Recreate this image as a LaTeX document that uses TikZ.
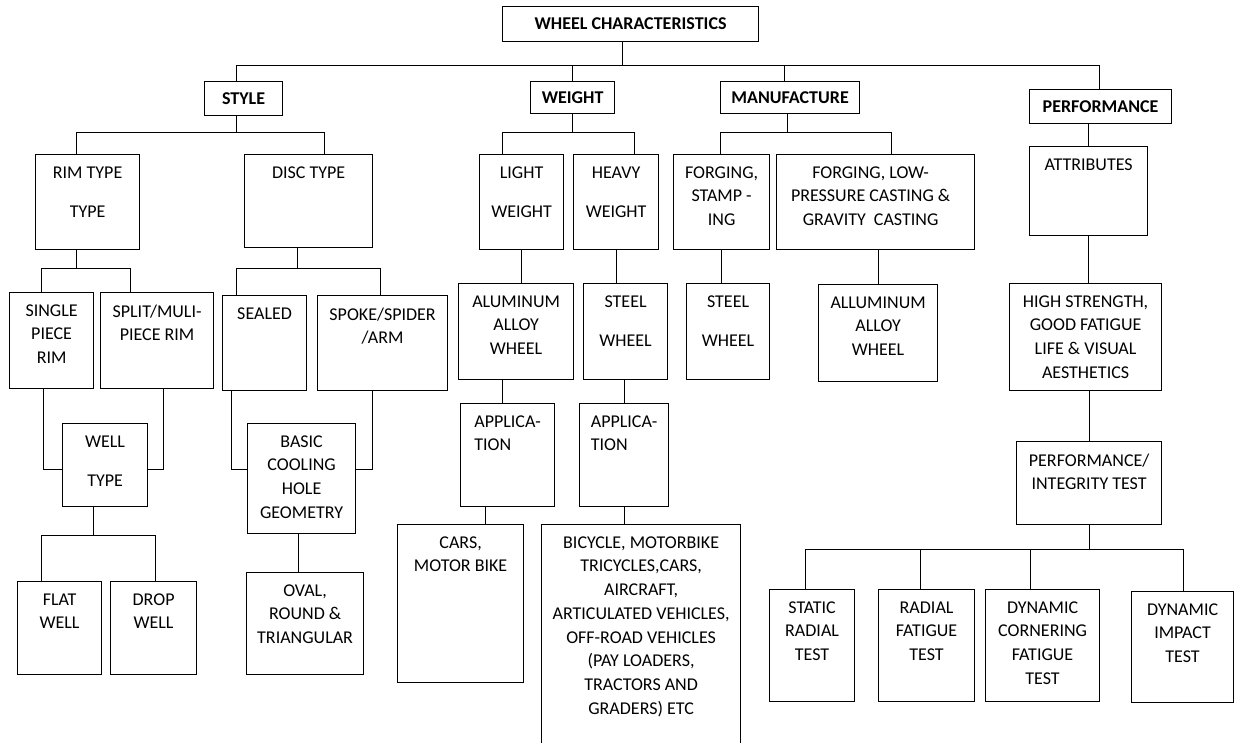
\documentclass[tikz,border=0pt]{standalone}
\usepackage{fontspec}
\setmainfont{Carlito}
\usepackage{tikz}
\newcommand\chartsize{\fontsize{18}{23.7}\selectfont}

\begin{document}
\begin{tikzpicture}[x=1pt,y=-1pt,line width=1.2pt,font=\chartsize,
		head/.style={draw,font=\chartsize\bfseries,inner sep=0pt,anchor=north west},
		box/.style={draw,inner sep=0pt,anchor=north west},
		txt/.style={align=center,inner sep=0pt,anchor=north,yshift=-12pt}]
	\useasboundingbox (0,0) rectangle (1242,742);
	
	% headings
	\node[head,minimum width=256,minimum height=35] (wheel) at (502,6) {WHEEL CHARACTERISTICS};
	\node[head,minimum width=78,minimum height=34] (style) at (204,81) {STYLE};
	\node[head,minimum width=84,minimum height=32] (weight) at (530,81) {WEIGHT};
	\node[head,minimum width=139,minimum height=32] (manuf) at (720,81) {MANUFACTURE};
	\node[head,minimum width=142,minimum height=34] (perf) at (1029,89) {PERFORMANCE};
	
	% style branch
	\node[box,minimum width=104,minimum height=95,label={[txt]north:RIM TYPE\\[16pt]TYPE}] (rim) at (35,154) {};
	\node[box,minimum width=128,minimum height=93,label={[txt]north:DISC TYPE}] (disc) at (244,154) {};
	\node[box,minimum width=84,minimum height=96,label={[txt]north:SINGLE\\PIECE\\RIM}] (single) at (9,292) {};
	\node[box,minimum width=113,minimum height=96,label={[txt]north:SPLIT/MULI-\\PIECE RIM}] (split) at (100,292) {};
	\node[box,minimum width=84,minimum height=95,label={[txt]north:SEALED}] (sealed) at (222,295) {};
	\node[box,minimum width=130,minimum height=95,label={[txt]north:SPOKE/SPIDER\\/ARM}] (spoke) at (317,295) {};
	\node[box,minimum width=85,minimum height=83,label={[txt]north:WELL\\[16pt]TYPE}] (well) at (62,423) {};
	\node[box,minimum width=108,minimum height=110,label={[txt]north:BASIC\\COOLING\\HOLE\\GEOMETRY}] (cool) at (247,423) {};
	\node[box,minimum width=84,minimum height=93,label={[txt]north:FLAT\\WELL}] (flat) at (17,581) {};
	\node[box,minimum width=86,minimum height=93,label={[txt]north:DROP\\WELL}] (drop) at (110,581) {};
	\node[box,minimum width=117,minimum height=102,label={[txt]north:OVAL,\\ROUND \&\\TRIANGULAR}] (oval) at (246,572) {};
	
	% weight branch
	\node[box,minimum width=84,minimum height=95,label={[txt]north:LIGHT\\[16pt]WEIGHT}] (light) at (479,154) {};
	\node[box,minimum width=85,minimum height=95,label={[txt]north:HEAVY\\[16pt]WEIGHT}] (heavy) at (573,154) {};
	\node[box,minimum width=115,minimum height=96,label={[txt]north:ALUMINUM\\ALLOY\\WHEEL}] (alu) at (458,283) {};
	\node[box,minimum width=84,minimum height=96,label={[txt]north:STEEL\\[16pt]WHEEL}] (steel) at (583,283) {};
	\node[box,minimum width=94,minimum height=103,label={[txt,align=left]north:APPLICA-\\TION}] (appa) at (460,403) {};
	\node[box,minimum width=89,minimum height=103,label={[txt,align=left]north:APPLICA-\\TION}] (appb) at (579,403) {};
	\node[box,minimum width=126,minimum height=158,label={[txt]north:CARS,\\MOTOR BIKE}] (cars) at (397,524) {};
	\node[box,minimum width=199,minimum height=230,label={[txt]north:BICYCLE, MOTORBIKE\\TRICYCLES,CARS,\\AIRCRAFT,\\ARTICULATED VEHICLES,\\OFF-ROAD VEHICLES\\(PAY LOADERS,\\TRACTORS AND\\GRADERS) ETC}] (bike) at (541,524) {};
	
	% manufacture branch
	\node[box,minimum width=96,minimum height=95,label={[txt]north:FORGING,\\STAMP -\\ING}] (forge) at (673,154) {};
	\node[box,minimum width=198,minimum height=95,label={[txt,xshift=-5pt]north:FORGING, LOW-\\PRESSURE CASTING \&\\GRAVITY\ \ CASTING}] (cast) at (776,154) {};
	\node[box,minimum width=83,minimum height=96,label={[txt]north:STEEL\\[16pt]WHEEL}] (steelf) at (686,283) {};
	\node[box,minimum width=119,minimum height=97,label={[txt]north:ALLUMINUM\\ALLOY\\WHEEL}] (allu) at (818,284) {};
	
	% performance branch
	\node[box,minimum width=118,minimum height=89,label={[txt]north:ATTRIBUTES}] (attr) at (1029,146) {};
	\node[box,minimum width=152,minimum height=107,label={[txt]north:HIGH STRENGTH,\\GOOD FATIGUE\\LIFE \& VISUAL\\AESTHETICS}] (high) at (1009,283) {};
	\node[box,minimum width=145,minimum height=83,label={[txt]north:PERFORMANCE/\\INTEGRITY TEST}] (integ) at (1016,441) {};
	\node[box,minimum width=85,minimum height=112,label={[txt]north:STATIC\\RADIAL\\TEST}] (stat) at (769,589) {};
	\node[box,minimum width=96,minimum height=112,label={[txt]north:RADIAL\\FATIGUE\\TEST}] (radf) at (878,589) {};
	\node[box,minimum width=114,minimum height=112,label={[txt]north:DYNAMIC\\CORNERING\\FATIGUE\\TEST}] (corn) at (985,589) {};
	\node[box,minimum width=102,minimum height=111,label={[txt]north:DYNAMIC\\IMPACT\\TEST}] (impact) at (1131,591) {};
	
	% top level
	\draw ([xshift=-8pt]wheel.south) -- ++(0,23) coordinate (topbar);
	\draw ([xshift=-7pt]style.north) |- (topbar) -| ([xshift=-1pt]perf.north);
	\draw (weight.north) -- (weight.north |- topbar);
	\draw ([xshift=-6pt]manuf.north) |- (topbar);
	
	% style
	\draw ([xshift=-7pt]style.south) -- ++(0,16) coordinate (stylebar);
	\draw ([xshift=-11pt]rim.north) |- (stylebar) -| ([xshift=16pt]disc.north);
	\draw ([xshift=-11pt]rim.south) -- ++(0,18) coordinate (rimbar);
	\draw ([xshift=-10pt]single.north) |- (rimbar) -| ([xshift=-26.5pt]split.north);
	\draw ([xshift=-11pt]disc.south) -- ++(0,20) coordinate (discbar);
	\draw ([xshift=-28pt]sealed.north) |- (discbar) -| ([xshift=-2pt]spoke.north);
	\draw ([xshift=-8pt]single.south) |- ([yshift=-4.5pt]well.west);
	\draw ([xshift=6.5pt]split.south) |- ([yshift=-4.5pt]well.east);
	\draw ([xshift=-33pt]sealed.south) |- ([yshift=9pt]cool.west);
	\draw ([xshift=-10pt]spoke.south) |- ([yshift=9pt]cool.east);
	\draw ([xshift=-11.5pt]well.south) -- ++(0,28) coordinate (wellbar);
	\draw ([xshift=-18pt]flat.north) |- (wellbar) -| ([xshift=2pt]drop.north);
	\draw ([xshift=-3pt]cool.south) -- ([xshift=-3pt]cool.south |- oval.north);
	
	% weight
	\draw (weight.south) -- ++(0,18) coordinate (weightbar);
	\draw ([xshift=-19pt]light.north) |- (weightbar) -| ([xshift=18.5pt]heavy.north);
	\draw (light.south) -- (light.south |- alu.north);
	\draw (heavy.south) -- (heavy.south |- steel.north);
	\draw ([xshift=-13.5pt]alu.south) -- ([xshift=-5pt]appa.north);
	\draw (appb.north) -- (appb.north |- steel.south);
	\draw ([xshift=-22pt]appa.south) -- ([xshift=25pt]cars.north);
	\draw (appb.south) -- (appb.south |- bike.north);
	
	% manufacture
	\draw ([xshift=-2.5pt]manuf.south) -- ++(0,18) coordinate (manufbar);
	\draw ([xshift=-1pt]forge.north) |- (manufbar) -| ([xshift=16pt]cast.north);
	\draw (forge.south) -- (forge.south |- steelf.north);
	\draw (allu.north) -- (allu.north |- cast.south);
	
	% performance
	\draw (attr.north) -- (attr.north |- perf.south);
	\draw (attr.south) -- (attr.south |- high.north);
	\draw (integ.north) -- (integ.north |- high.south);
	\draw (integ.south) -- ++(0,24) coordinate (testbar);
	\draw ([xshift=-6.5pt]stat.north) |- (testbar) -| ([xshift=1pt]impact.north);
	\draw ([xshift=-6pt]radf.north) |- (testbar);
	\draw ([xshift=-12pt]corn.north) |- (testbar);
	
\end{tikzpicture}
\end{document}
